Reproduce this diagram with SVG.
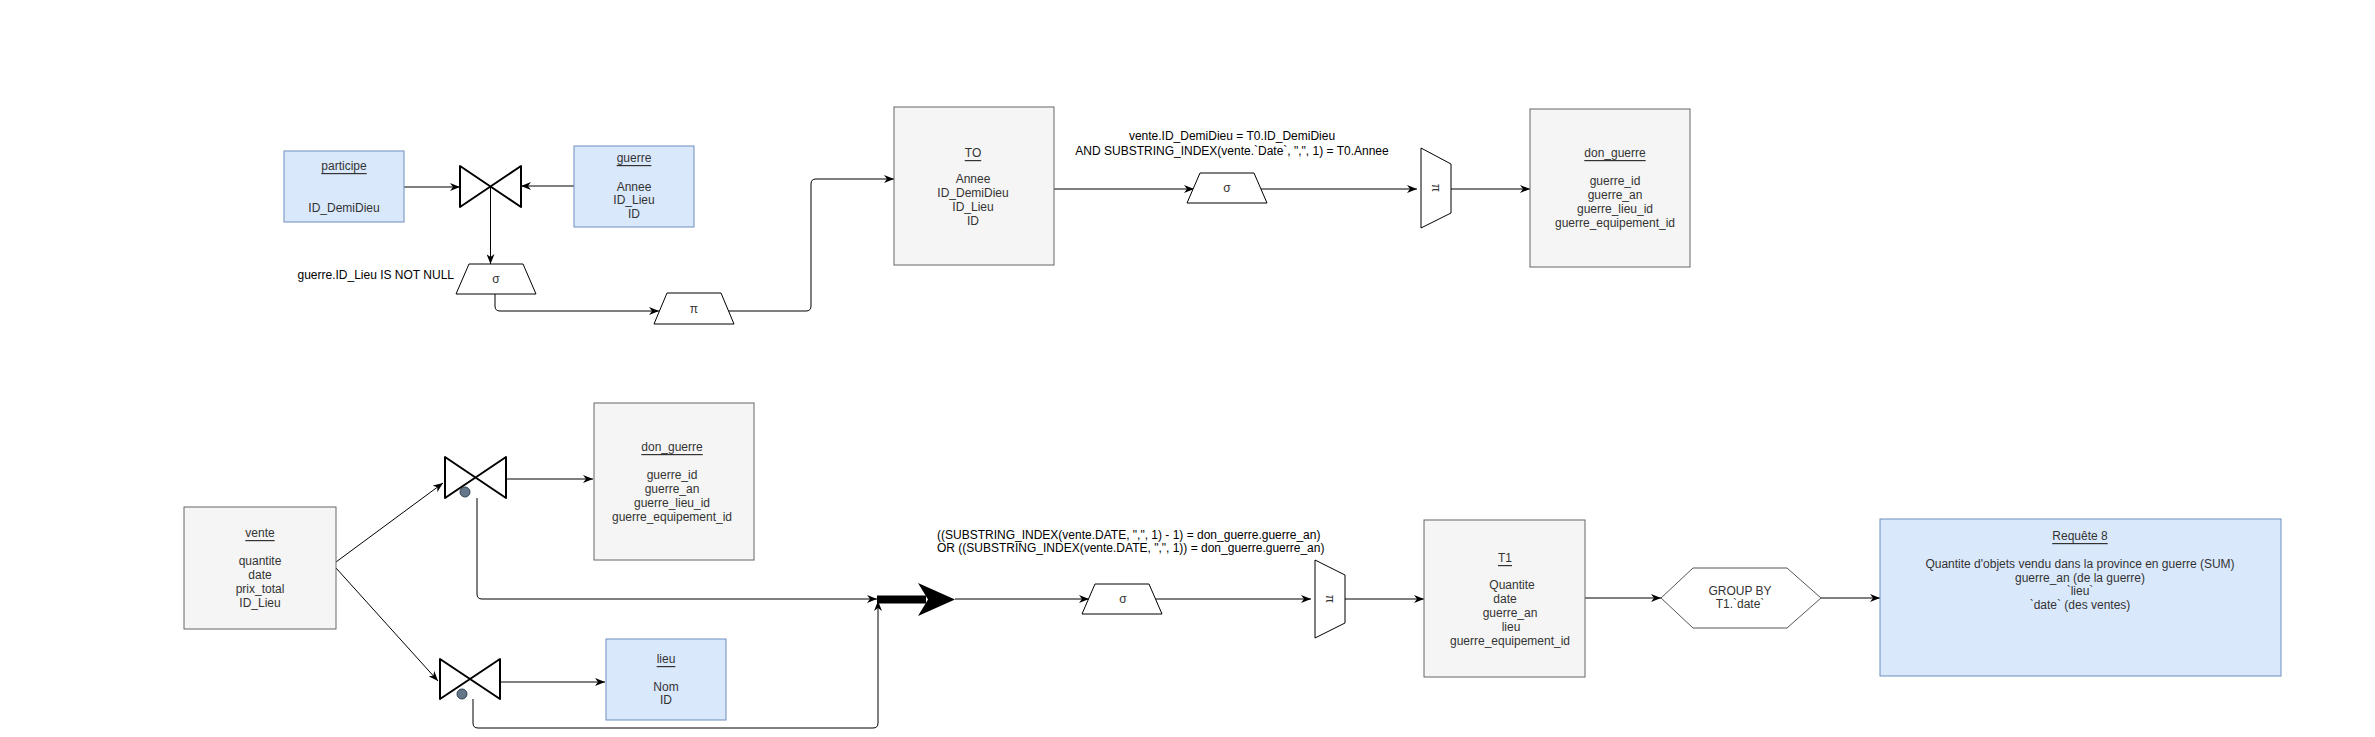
<svg xmlns="http://www.w3.org/2000/svg" width="2375" height="737" viewBox="0 0 2375 737">
<defs>
<marker id="arr" viewBox="0 0 10 8" refX="10" refY="4" markerWidth="10" markerHeight="8" markerUnits="userSpaceOnUse" orient="auto"><path d="M0,0 L10,4 L0,8 L3,4 Z" fill="#000"/></marker>
</defs>
<style>
text{font-family:"Liberation Sans",Arial,sans-serif;font-size:12px;fill:#333;dominant-baseline:central;text-anchor:middle}
.lbl{fill:#000}
.u{text-decoration:underline}
.gray{fill:#f5f5f5;stroke:#666;stroke-width:1}
.blue{fill:#dae8fc;stroke:#6c8ebf;stroke-width:1}
.op{fill:#fff;stroke:#000;stroke-width:1}
.bow{fill:#fff;stroke:#000;stroke-width:2;stroke-linejoin:round}
.dot{fill:#647687;stroke:#314354;stroke-width:1}
.e{fill:none;stroke:#000;stroke-width:1;marker-end:url(#arr)}
</style>
<rect width="2375" height="737" fill="#fff"/>

<g id="connectors">
<path class="e" d="M404,187 H460"/>
<path class="e" d="M574,186 H521"/>
<path class="e" d="M490.5,187 V264"/>
<path class="e" d="M495,294 V306 Q495,311 500,311 H659"/>
<path class="e" d="M728,311 H806 Q811,311 811,306 V184 Q811,179 816,179 H894"/>
<path class="e" d="M1054,189 H1194"/>
<path class="e" d="M1260,189 H1417"/>
<path class="e" d="M1451,189 H1530"/>
<path class="e" d="M336,562 L443,483"/>
<path class="e" d="M336,568 L438,681"/>
<path class="e" d="M506,479 H593"/>
<path class="e" d="M500,682 H605"/>
<path class="e" d="M477,498 V594 Q477,599 482,599 H877"/>
<path class="e" d="M473,699 V723 Q473,728 478,728 H873 Q878,728 878,723 V601"/>
<path d="M877,599.5 H926" stroke="#000" stroke-width="8" fill="none"/>
<path d="M918,583 L955,599.5 L918,616 L928,599.5 Z" fill="#000"/>
<path class="e" d="M955,599 H1089"/>
<path class="e" d="M1155,599 H1311"/>
<path class="e" d="M1345,599 H1424"/>
<path class="e" d="M1585,598 H1661"/>
<path class="e" d="M1821,598 H1880"/>
</g>

<g id="participe">
<rect class="blue" x="284" y="151" width="120" height="71"/>
<text class="u" x="344" y="166">participe</text>
<text x="344" y="208">ID_DemiDieu</text>
</g>

<g id="guerre">
<rect class="blue" x="574" y="146" width="120" height="81"/>
<text class="u" x="634" y="158">guerre</text>
<text x="634" y="187">Annee</text>
<text x="634" y="200">ID_Lieu</text>
<text x="634" y="214">ID</text>
</g>

<g id="join1">
<path class="bow" d="M460,166 L460,207 L521,166 L521,207 Z"/>
</g>

<g id="sigma1">
<path class="op" d="M456,294 L469,264 L523,264 L536,294 Z"/>
<text x="496" y="279">σ</text>
<text class="lbl" x="454" y="275" style="text-anchor:end">guerre.ID_Lieu IS NOT NULL</text>
</g>

<g id="pi1">
<path class="op" d="M654,324 L667,293 L721,293 L734,324 Z"/>
<text x="694" y="309">π</text>
</g>

<g id="T0">
<rect class="gray" x="894" y="107" width="160" height="158"/>
<text class="u" x="973" y="153">TO</text>
<text x="973" y="179">Annee</text>
<text x="973" y="193">ID_DemiDieu</text>
<text x="973" y="207">ID_Lieu</text>
<text x="973" y="221">ID</text>
</g>

<g id="sigma2">
<path class="op" d="M1187,203 L1200,173 L1254,173 L1267,203 Z"/>
<text x="1227" y="188">σ</text>
<text class="lbl" x="1232" y="136">vente.ID_DemiDieu = T0.ID_DemiDieu</text>
<text class="lbl" x="1232" y="151">AND SUBSTRING_INDEX(vente.`Date`, ",", 1) = T0.Annee</text>
</g>

<g id="merge1">
<path class="op" d="M1421,148 L1451,164 L1451,213 L1421,228 Z"/>
<text x="1436" y="188" transform="rotate(90 1436 188)">π</text>
</g>

<g id="don_guerre1">
<rect class="gray" x="1530" y="109" width="160" height="158"/>
<text class="u" x="1615" y="153">don_guerre</text>
<text x="1615" y="181">guerre_id</text>
<text x="1615" y="195">guerre_an</text>
<text x="1615" y="209">guerre_lieu_id</text>
<text x="1615" y="223">guerre_equipement_id</text>
</g>

<g id="vente">
<rect class="gray" x="184" y="507" width="152" height="122"/>
<text class="u" x="260" y="533">vente</text>
<text x="260" y="561">quantite</text>
<text x="260" y="575">date</text>
<text x="260" y="589">prix_total</text>
<text x="260" y="603">ID_Lieu</text>
</g>

<g id="join2">
<path class="bow" d="M445,457 L445,498 L506,457 L506,498 Z"/>
<circle class="dot" cx="465" cy="492" r="5"/>
</g>

<g id="don_guerre2">
<rect class="gray" x="594" y="403" width="160" height="157"/>
<text class="u" x="672" y="447">don_guerre</text>
<text x="672" y="475">guerre_id</text>
<text x="672" y="489">guerre_an</text>
<text x="672" y="503">guerre_lieu_id</text>
<text x="672" y="517">guerre_equipement_id</text>
</g>

<g id="join3">
<path class="bow" d="M440,659 L440,699 L500,659 L500,699 Z"/>
<circle class="dot" cx="462" cy="694" r="5"/>
</g>

<g id="lieu">
<rect class="blue" x="606" y="639" width="120" height="81"/>
<text class="u" x="666" y="659">lieu</text>
<text x="666" y="687">Nom</text>
<text x="666" y="700">ID</text>
</g>

<g id="sigma3">
<path class="op" d="M1082,614 L1095,584 L1149,584 L1162,614 Z"/>
<text x="1123" y="599">σ</text>
<text class="lbl" x="937" y="535" style="text-anchor:start">((SUBSTRING_INDEX(vente.DATE, ",", 1) - 1) = don_guerre.guerre_an)</text>
<text class="lbl" x="937" y="548" style="text-anchor:start">OR ((SUBSTRING_INDEX(vente.DATE, ",", 1)) = don_guerre.guerre_an)</text>
</g>

<g id="merge2">
<path class="op" d="M1315,560 L1345,575 L1345,623 L1315,638 Z"/>
<text x="1330" y="599" transform="rotate(90 1330 599)">π</text>
</g>

<g id="T1">
<rect class="gray" x="1424" y="520" width="161" height="157"/>
<text class="u" x="1505" y="558">T1</text>
<text x="1512" y="585">Quantite</text>
<text x="1505" y="599">date</text>
<text x="1510" y="613">guerre_an</text>
<text x="1511" y="627">lieu</text>
<text x="1510" y="641">guerre_equipement_id</text>
</g>

<g id="groupby">
<path d="M1661,598 L1693,568 L1787,568 L1821,598 L1787,628 L1693,628 Z" fill="#fff" stroke="#555" stroke-width="1"/>
<text x="1740" y="591">GROUP BY</text>
<text x="1740" y="604">T1.`date`</text>
</g>

<g id="requete8">
<rect class="blue" x="1880" y="519" width="401" height="157"/>
<text class="u" x="2080" y="536">Requête 8</text>
<text x="2080" y="564">Quantite d'objets vendu dans la province en guerre (SUM)</text>
<text x="2080" y="578">guerre_an (de la guerre)</text>
<text x="2080" y="591">`lieu`</text>
<text x="2080" y="605">`date` (des ventes)</text>
</g>
</svg>
